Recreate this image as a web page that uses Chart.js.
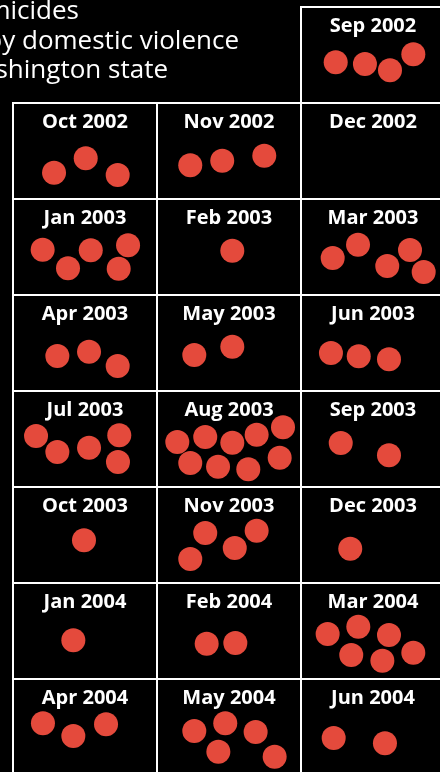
<!DOCTYPE html>
<html>
<head>
<meta charset="utf-8">
<script src="https://cdn.jsdelivr.net/npm/chart.js@4.4.1/dist/chart.umd.min.js"></script>
<style>
  html, body { margin: 0; padding: 0; background: #000; overflow: hidden; }
  canvas { display: block; }
</style>
</head>
<body>
<canvas id="c" width="440" height="772"></canvas>
<script>
// ---- Data ----
const titleLines = ['Homicides', 'caused by domestic violence', 'in Washington state'];

const months = ['Sep 2002', 'Oct 2002', 'Nov 2002', 'Dec 2002',
  'Jan 2003', 'Feb 2003', 'Mar 2003', 'Apr 2003', 'May 2003', 'Jun 2003',
  'Jul 2003', 'Aug 2003', 'Sep 2003', 'Oct 2003', 'Nov 2003', 'Dec 2003',
  'Jan 2004', 'Feb 2004', 'Mar 2004', 'Apr 2004', 'May 2004', 'Jun 2004'];

// number of homicides per month
const homicides = [4, 3, 3, 0, 5, 1, 5, 3, 2, 3, 5, 9, 2, 1, 4, 1, 1, 2, 6, 3, 5, 2];

// scatter position of each dot inside its month cell (fraction of cell width / height)
const dotX = [
  [0.241, 0.444, 0.618, 0.780],
  [0.285, 0.505, 0.727],
  [0.231, 0.453, 0.745],
  [],
  [0.206, 0.382, 0.540, 0.799, 0.734],
  [0.523],
  [0.220, 0.396, 0.599, 0.757, 0.852],
  [0.308, 0.528, 0.727],
  [0.259, 0.523],
  [0.208, 0.401, 0.611],
  [0.160, 0.308, 0.528, 0.738, 0.729],
  [0.141, 0.335, 0.523, 0.692, 0.875, 0.231, 0.424, 0.634, 0.852],
  [0.276, 0.611],
  [0.493],
  [0.335, 0.692, 0.540, 0.231],
  [0.342],
  [0.419],
  [0.345, 0.544],
  [0.185, 0.398, 0.611, 0.349, 0.565, 0.780],
  [0.208, 0.419, 0.646],
  [0.259, 0.474, 0.685, 0.426, 0.817],
  [0.227, 0.583]
];
const dotY = [
  [0.576, 0.594, 0.659, 0.493],
  [0.726, 0.576, 0.750],
  [0.649, 0.601, 0.549],
  [],
  [0.528, 0.722, 0.534, 0.482, 0.726],
  [0.539],
  [0.615, 0.476, 0.698, 0.531, 0.760],
  [0.635, 0.591, 0.740],
  [0.625, 0.539],
  [0.604, 0.639, 0.670],
  [0.469, 0.635, 0.591, 0.461, 0.740],
  [0.531, 0.479, 0.539, 0.455, 0.378, 0.750, 0.789, 0.816, 0.695],
  [0.542, 0.670],
  [0.555],
  [0.479, 0.455, 0.635, 0.750],
  [0.643],
  [0.597],
  [0.632, 0.625],
  [0.531, 0.455, 0.542, 0.750, 0.809, 0.726],
  [0.461, 0.594, 0.472],
  [0.542, 0.461, 0.552, 0.757, 0.809],
  [0.615, 0.670]
];

// small-multiple grid: 3 columns, first month sits in the third slot
const gridColumns = 3;
const firstSlot = 2;

// ---- Build chart ----
function cellOf(i) {
  const slot = i + firstSlot;
  return { col: slot % gridColumns, row: Math.floor(slot / gridColumns) };
}

const points = [];
months.forEach((m, i) => {
  const { col, row } = cellOf(i);
  for (let k = 0; k < homicides[i]; k++) {
    points.push({ x: col + dotX[i][k], y: row + dotY[i][k], month: m });
  }
});

const bgPlugin = {
  id: 'bg',
  beforeDraw(chart) {
    const ctx = chart.ctx;
    ctx.save();
    ctx.fillStyle = '#000';
    ctx.fillRect(0, 0, chart.width, chart.height);
    ctx.restore();
  }
};

const cellsPlugin = {
  id: 'cells',
  beforeDatasetsDraw(chart) {
    const { ctx, scales: { x, y } } = chart;
    ctx.save();
    ctx.strokeStyle = '#ffffff';
    ctx.lineWidth = 2;
    ctx.fillStyle = '#ffffff';
    ctx.font = "bold 20px 'Open Sans'";
    ctx.textAlign = 'center';
    ctx.textBaseline = 'alphabetic';
    months.forEach((m, i) => {
      const { col, row } = cellOf(i);
      const l = x.getPixelForValue(col), r = x.getPixelForValue(col + 1);
      const t = y.getPixelForValue(row), b = y.getPixelForValue(row + 1);
      ctx.strokeRect(l, t, r - l, b - t);
      ctx.fillText(m, (l + r) / 2, t + 25);
    });
    ctx.restore();
  }
};

const headerPlugin = {
  id: 'header',
  afterDraw(chart) {
    const ctx = chart.ctx;
    ctx.save();
    ctx.fillStyle = '#ffffff';
    ctx.font = "26px 'Open Sans'";
    ctx.textAlign = 'right';
    ctx.textBaseline = 'alphabetic';
    const ends = [79, 239, 168];
    const bases = [19, 49, 78];
    titleLines.forEach((t, i) => ctx.fillText(t, ends[i], bases[i]));
    ctx.restore();
  }
};

new Chart(document.getElementById('c'), {
  type: 'scatter',
  data: {
    datasets: [{
      label: 'Homicides',
      data: points,
      backgroundColor: '#e44a3c',
      borderWidth: 0,
      pointRadius: 12,
      pointHoverRadius: 12
    }]
  },
  options: {
    responsive: false,
    animation: false,
    devicePixelRatio: 1,
    layout: { padding: 0, autoPadding: false },
    plugins: { legend: { display: false }, tooltip: { enabled: false }, title: { display: false } },
    scales: {
      x: { type: 'linear', display: false, min: -13 / 144, max: 427 / 144 },
      y: { type: 'linear', display: false, reverse: true, min: -7 / 96, max: 765 / 96 }
    }
  },
  plugins: [bgPlugin, cellsPlugin, headerPlugin]
});
</script>
</body>
</html>
